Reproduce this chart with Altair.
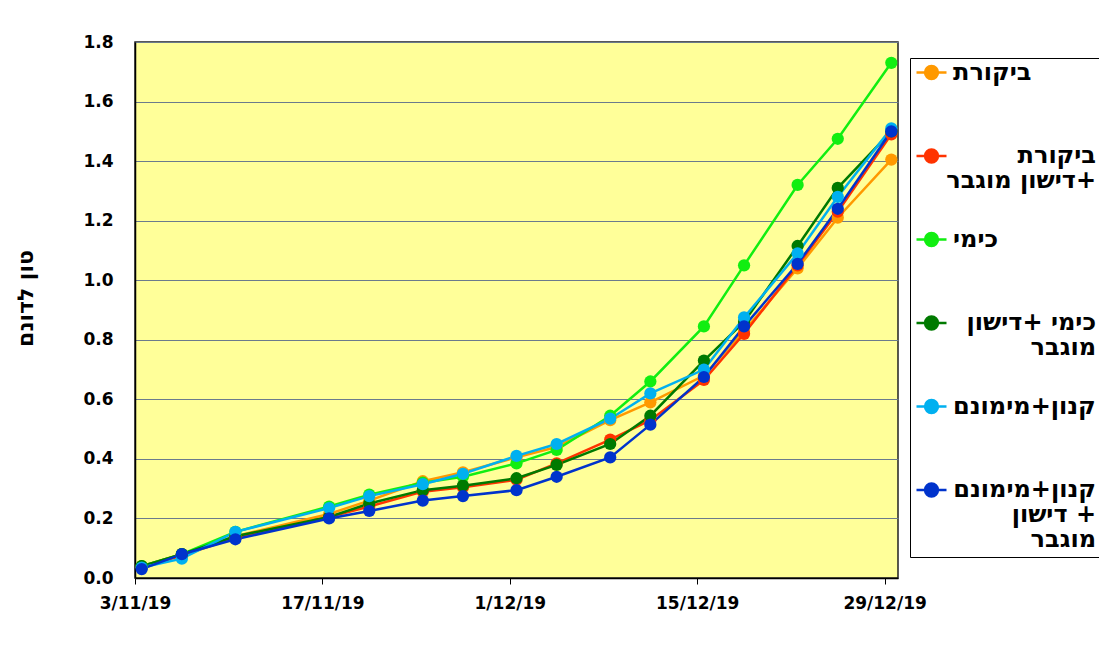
import altair as alt
import pandas as pd

# ---- data ----
dates = ["2019-11-03", "2019-11-06", "2019-11-10", "2019-11-17", "2019-11-20",
         "2019-11-24", "2019-11-27", "2019-12-01", "2019-12-04", "2019-12-08",
         "2019-12-11", "2019-12-15", "2019-12-18", "2019-12-22", "2019-12-25",
         "2019-12-29"]

# legend labels ('|' = line break), in display order
series_labels = [
    "ביקורת",
    "ביקורת|דישון מוגבר+",
    "כימי",
    "כימי +דישון|מוגבר",
    "קנון+מימונם",
    "קנון+מימונם|דישון +|מוגבר",
]
series_colors = ["#FF9900", "#FF3300", "#11EE11", "#007A00", "#00B0F0", "#0033CC"]

control = [0.04, 0.08, 0.14, 0.215, 0.26, 0.325, 0.355, 0.405, 0.44, 0.53, 0.59, 0.68, 0.83, 1.04, 1.21, 1.405]
control_fert = [0.035, 0.075, 0.135, 0.205, 0.24, 0.29, 0.305, 0.33, 0.385, 0.465, 0.53, 0.665, 0.82, 1.05, 1.23, 1.49]
chemical = [0.04, 0.08, 0.155, 0.24, 0.28, 0.32, 0.34, 0.385, 0.43, 0.545, 0.66, 0.845, 1.05, 1.32, 1.475, 1.73]
chemical_fert = [0.04, 0.08, 0.14, 0.205, 0.25, 0.295, 0.31, 0.335, 0.38, 0.45, 0.545, 0.73, 0.86, 1.115, 1.31, 1.50]
kanon = [0.035, 0.065, 0.155, 0.235, 0.275, 0.315, 0.35, 0.41, 0.45, 0.535, 0.62, 0.70, 0.875, 1.09, 1.28, 1.51]
kanon_fert = [0.03, 0.08, 0.13, 0.20, 0.225, 0.26, 0.275, 0.295, 0.34, 0.405, 0.515, 0.675, 0.845, 1.055, 1.24, 1.50]

y_ticks = [0.0, 0.2, 0.4, 0.6, 0.8, 1.0, 1.2, 1.4, 1.6, 1.8]
x_tick_dates = [(2019, 11, 3), (2019, 11, 17), (2019, 12, 1), (2019, 12, 15), (2019, 12, 29)]

all_values = [control, control_fert, chemical, chemical_fert, kanon, kanon_fert]

rows = []
for label, vals in zip(series_labels, all_values):
    for d, v in zip(dates, vals):
        rows.append({"date": d, "value": v, "series": label})
df = pd.DataFrame(rows)
# Excel date axis places each day's point in the middle of its day slot
df["date"] = pd.to_datetime(df["date"]) + pd.Timedelta(hours=12)

FONT = "DejaVu Sans"
SYMBOL = ("M-1,-0.47L1,-0.47"
          "M-0.43,-0.47A0.43,0.43,0,1,0,0.43,-0.47A0.43,0.43,0,1,0,-0.43,-0.47Z")
MULTI = "indexof(datum.label, '|') >= 0"

x_enc = alt.X(
    "date:T",
    title=None,
    scale=alt.Scale(domain=[alt.DateTime(year=2019, month=11, date=3),
                            alt.DateTime(year=2019, month=12, date=30)]),
    axis=alt.Axis(
        values=[alt.DateTime(year=y, month=m, date=d) for (y, m, d) in x_tick_dates],
        format="%-d/%-m/%y",
        grid=False,
        tickSize=6,
        labelPadding=11,
        labelFlush=False,
        labelOverlap=False,
    ),
)
y_enc = alt.Y(
    "value:Q",
    scale=alt.Scale(domain=[0, 1.8], nice=False),
    axis=alt.Axis(
        values=y_ticks,
        format=".1f",
        title="טון לדונם",
        ticks=False,
        labelPadding=22,
        grid=True,
        gridColor="#6b7b8c",
        gridWidth=1.2,
        titleFont=FONT,
        titleFontSize=22,
        titleFontWeight="bold",
        titleColor="black",
        titleAngle=270,
        titleAlign="center",
        titleBaseline="middle",
        titleX=-110,
        titleY=256,
    ),
)
color_enc = alt.Color(
    "series:N",
    sort=series_labels,
    scale=alt.Scale(domain=series_labels, range=series_colors),
    legend=alt.Legend(
        title=None,
        orient="none",
        legendX=775,
        legendY=16,
        direction="vertical",
        symbolType=SYMBOL,
        symbolSize=900,
        symbolStrokeWidth=2.5,
        labelFont=FONT,
        labelFontSize=24,
        labelFontWeight="bold",
        labelColor="black",
        labelAlign=alt.ExprRef(expr=f"{MULTI} ? 'right' : 'left'"),
        labelOffset=alt.ExprRef(expr=f"{MULTI} ? 148 : 5"),
        labelLimit=300,
        labelBaseline="alphabetic",
        labelExpr="slice(split(datum.label + '||', '|'), 0, 3)",
        padding=5,
        rowPadding=8.5,
        strokeColor="black",
        fillColor="white",
    ),
)

chart = (
    alt.Chart(df)
    .mark_line(strokeWidth=2.5, point=alt.OverlayMarkDef(filled=True, size=150, opacity=1))
    .encode(x=x_enc, y=y_enc, color=color_enc)
    .properties(
        width=763,
        height=536,
        autosize=alt.AutoSizeParams(type="none"),
        padding={"left": 127, "top": 34, "right": 201, "bottom": 60},
        background="white",
    )
    .configure(style={"guide-label": {"lineHeight": 25}})
    .configure_view(fill="#FFFF99", stroke="#222222", strokeWidth=1.5)
    .configure_axis(
        labelFont=FONT,
        labelFontSize=17,
        labelFontWeight="bold",
        labelColor="black",
        domainColor="black",
        domainWidth=1.5,
        tickColor="black",
        tickWidth=1,
    )
)

chart.save("out.html", embed_options={"renderer": "svg", "actions": False})
